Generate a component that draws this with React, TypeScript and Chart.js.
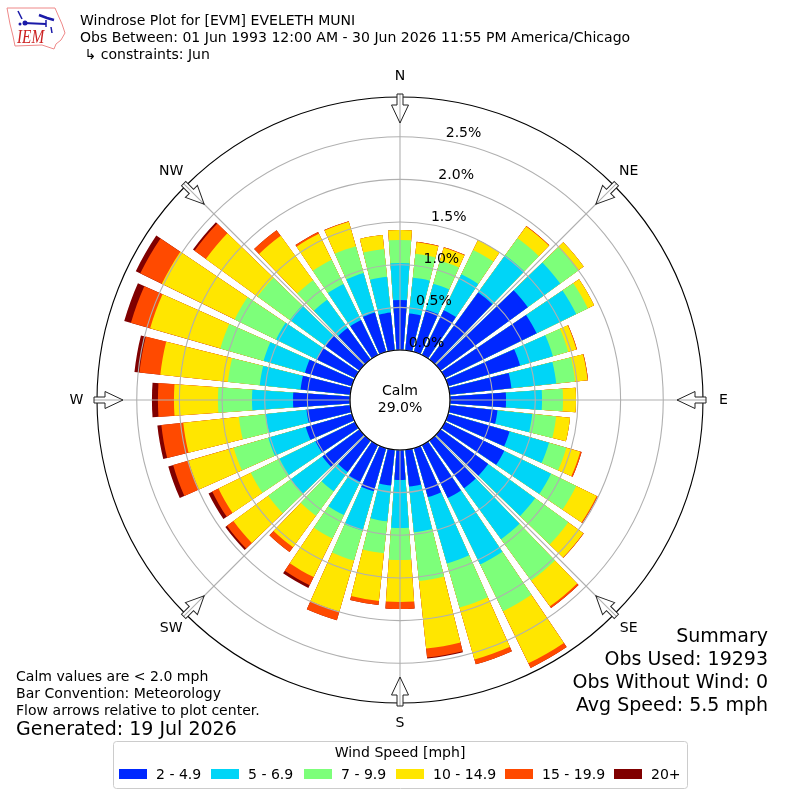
import React, { useEffect, useRef } from "react";
import { Chart, registerables } from "chart.js";

Chart.register(...registerables);

const directions = [0,10,20,30,40,50,60,70,80,90,100,110,120,130,140,150,160,170,180,190,200,210,220,230,240,250,260,270,280,290,300,310,320,330,340,350];
const speed2to5 = [.586,.434,.516,.586,.973,1.266,1.196,.879,.727,.657,.563,.750,.774,.692,.692,.692,.598,.434,.352,.422,.528,.481,.457,.539,.516,.563,.516,.668,.586,.574,.504,.492,.457,.457,.481,.445];
const speed5to7 = [.434,.422,.316,.469,.539,.469,.516,.399,.528,.422,.410,.481,.610,.680,.739,.867,.809,.539,.563,.422,.481,.434,.281,.457,.469,.457,.481,.481,.481,.504,.527,.516,.410,.469,.481,.422];
const speed7to10 = [.270,.281,.281,.316,.246,.258,.152,.188,.223,.246,.281,.211,.328,.481,.598,.610,.539,.574,.375,.375,.363,.305,.352,.328,.375,.422,.316,.399,.375,.527,.539,.469,.281,.316,.328,.328];
const speed10to15 = [.117,.135,.158,.129,.170,.082,.082,.100,.147,.152,.164,.170,.268,.217,.375,.680,.633,.797,.492,.563,.621,.504,.457,.504,.422,.551,.656,.516,.797,.856,.950,.750,.645,.340,.299,.164];
const speed15to20 = [0,.006,.006,0,.006,0,0,.006,.006,0,0,.017,.012,.006,.023,.059,.059,.106,.082,.047,.106,.106,.070,.094,.082,.188,.258,.188,.246,.234,.281,.164,.082,.023,.006,0];
const speed20plus = [0,0,0,0,0,0,0,0,0,0,0,0,0,0,0,0,0,.012,0,0,0,.035,0,.023,.047,.059,.047,.070,.059,.082,.059,.023,0,0,0,0];

const seriesValues = [speed2to5, speed5to7, speed7to10, speed10to15, speed15to20, speed20plus];
const seriesLabels = ["2 - 4.9", "5 - 6.9", "7 - 9.9", "10 - 14.9", "15 - 19.9", "20+"];
const seriesColors = ["#0028ff", "#00d5f7", "#7dff7a", "#ffe600", "#ff4a00", "#800000"];
const radialTicks = [0, 0.5, 1, 1.5, 2, 2.5];
const compass = ["N", "NE", "E", "SE", "S", "SW", "W", "NW"];
const compassAngles = [0, 45, 90, 135, 180, 225, 270, 315];
const titleLines = [
  "Windrose Plot for [EVM] EVELETH MUNI",
  "Obs Between: 01 Jun 1993 12:00 AM - 30 Jun 2026 11:55 PM America/Chicago",
  " \u21B3 constraints: Jun",
];
const noteLines = ["Calm values are < 2.0 mph", "Bar Convention: Meteorology", "Flow arrows relative to plot center."];
const summaryLines = ["Summary", "Obs Used: 19293", "Obs Without Wind: 0", "Avg Speed: 5.5 mph"];

const FONT = '"DejaVu Sans"';
const SMALL = 14.05;
const LARGE = 19;
const labels72: string[] = [];
directions.forEach((d) => { labels72.push(String(d)); labels72.push(""); });

const datasets = seriesValues.map((_, s) => ({
  label: seriesLabels[s],
  backgroundColor: seriesColors[s],
  borderWidth: 0,
  data: labels72.map((__, i) => {
    if (i % 2 === 1) return 0;
    let total = 0;
    for (let k = 0; k <= s; k++) total += seriesValues[k][i / 2];
    return total;
  }),
}));

function text(ctx: CanvasRenderingContext2D, t: string, x: number, y: number, size: number, align: CanvasTextAlign = "left", baseline: CanvasTextBaseline = "middle") {
  ctx.font = `${size}px ${FONT}`;
  ctx.fillStyle = "#000";
  ctx.textAlign = align;
  ctx.textBaseline = baseline;
  ctx.fillText(t, x, y);
}

function drawLogo(ctx: CanvasRenderingContext2D) {
  ctx.save();
  ctx.strokeStyle = "#e88";
  ctx.lineWidth = 1;
  ctx.beginPath();
  const pts = [[7,8],[55,8],[58,15],[62,24],[65,33],[61,40],[56,44],[54,49],[42,45],[15,46],[13,36],[10,24]];
  pts.forEach((p, i) => (i ? ctx.lineTo(p[0], p[1]) : ctx.moveTo(p[0], p[1])));
  ctx.closePath();
  ctx.stroke();
  ctx.strokeStyle = "#1a1aa8";
  ctx.fillStyle = "#1a1aa8";
  ctx.lineWidth = 2;
  ctx.beginPath(); ctx.moveTo(24, 23); ctx.lineTo(46, 24); ctx.stroke();
  ctx.lineWidth = 2.5;
  ctx.beginPath(); ctx.moveTo(39, 15); ctx.lineTo(47, 18); ctx.lineTo(54, 20); ctx.stroke();
  ctx.lineWidth = 1.5;
  ctx.beginPath(); ctx.moveTo(46, 20); ctx.lineTo(46, 27); ctx.stroke();
  ctx.beginPath(); ctx.moveTo(51, 27); ctx.lineTo(52, 33); ctx.stroke();
  ctx.beginPath(); ctx.moveTo(18, 11); ctx.lineTo(22, 19); ctx.stroke();
  ctx.beginPath(); ctx.arc(25, 23, 2.5, 0, Math.PI * 2); ctx.fill();
  ctx.beginPath(); ctx.arc(20, 24, 1.5, 0, Math.PI * 2); ctx.fill();
  ctx.translate(17, 38);
  ctx.scale(0.85, 1);
  ctx.font = 'italic 18px "Liberation Serif"';
  ctx.fillStyle = "#cc2222";
  ctx.textAlign = "left";
  ctx.textBaseline = "middle";
  ctx.fillText("IEM", 0, 0);
  ctx.restore();
}

function arrow(ctx: CanvasRenderingContext2D, cx: number, cy: number, deg: number) {
  ctx.save();
  ctx.translate(cx, cy);
  ctx.rotate((deg * Math.PI) / 180);
  const shape = [[-3, -306], [3, -306], [3, -295], [8.5, -295], [0, -277], [-8.5, -295], [-3, -295]];
  const path = () => {
    ctx.beginPath();
    shape.forEach((p, i) => (i ? ctx.lineTo(p[0], p[1]) : ctx.moveTo(p[0], p[1])));
    ctx.closePath();
  };
  path();
  ctx.fillStyle = "#fff";
  ctx.fill();
  ctx.strokeStyle = "#b0b0b0";
  ctx.lineWidth = 1.1;
  ctx.beginPath(); ctx.moveTo(0, -306); ctx.lineTo(0, -277); ctx.stroke();
  path();
  ctx.strokeStyle = "#222";
  ctx.lineWidth = 1;
  ctx.stroke();
  ctx.restore();
}

const windrosePlugin = {
  id: "windrose",
  afterDatasetsDraw(chart: any) {
    const r = chart.scales.r;
    const ctx = chart.ctx;
    ctx.save();
    ctx.fillStyle = "#fff";
    ctx.beginPath();
    ctx.arc(r.xCenter, r.yCenter, r.getDistanceFromCenterForValue(0), 0, Math.PI * 2);
    ctx.fill();
    ctx.restore();
  },
  afterDraw(chart: any) {
    const r = chart.scales.r;
    const ctx: CanvasRenderingContext2D = chart.ctx;
    const cx = r.xCenter, cy = r.yCenter;
    const inner = r.getDistanceFromCenterForValue(0);
    const outer = r.drawingArea;
    ctx.save();
    ctx.strokeStyle = "#b0b0b0";
    ctx.lineWidth = 1.1;
    compassAngles.forEach((a) => {
      const t = (a * Math.PI) / 180;
      ctx.beginPath();
      ctx.moveTo(cx + Math.sin(t) * inner, cy - Math.cos(t) * inner);
      ctx.lineTo(cx + Math.sin(t) * outer, cy - Math.cos(t) * outer);
      ctx.stroke();
    });
    ctx.strokeStyle = "#000";
    ctx.lineWidth = 1.1;
    ctx.beginPath(); ctx.arc(cx, cy, outer, 0, Math.PI * 2); ctx.stroke();
    ctx.beginPath(); ctx.arc(cx, cy, inner, 0, Math.PI * 2); ctx.stroke();
    compassAngles.forEach((a) => arrow(ctx, cx, cy, a));
    compass.forEach((c, i) => {
      const t = (compassAngles[i] * Math.PI) / 180;
      text(ctx, c, cx + Math.sin(t) * 323.5, cy - Math.cos(t) * 323.5, SMALL, "center");
    });
    const labelAngle = (10 * Math.PI) / 180;
    radialTicks.forEach((v) => {
      const d = r.getDistanceFromCenterForValue(v);
      text(ctx, v.toFixed(1) + "%", cx + Math.sin(labelAngle) * d, cy - Math.cos(labelAngle) * d, SMALL, "left", "bottom");
    });
    text(ctx, "Calm", cx, 391, SMALL, "center");
    text(ctx, "29.0%", cx, 408, SMALL, "center");

    titleLines.forEach((t, i) => text(ctx, t, 80, 21 + i * 17, SMALL));
    noteLines.forEach((t, i) => text(ctx, t, 16, 677 + i * 17, SMALL));
    text(ctx, "Generated: 19 Jul 2026", 16, 730, LARGE);
    summaryLines.forEach((t, i) => text(ctx, t, 768, 637 + i * 23, LARGE, "right"));

    ctx.fillStyle = "rgba(255,255,255,0.8)";
    ctx.strokeStyle = "#ccc";
    ctx.lineWidth = 1;
    ctx.beginPath();
    ctx.roundRect(113.5, 741.5, 574, 47, 3);
    ctx.fill();
    ctx.stroke();
    text(ctx, "Wind Speed [mph]", 400, 753, SMALL, "center");
    const swatchX = [119, 211, 304, 396, 505, 614];
    seriesLabels.forEach((l, i) => {
      ctx.fillStyle = seriesColors[i];
      ctx.fillRect(swatchX[i], 769, 28, 10);
      text(ctx, l, swatchX[i] + 37, 775, SMALL);
    });
    drawLogo(ctx);
    ctx.restore();
  },
};

export default function App() {
  const ref = useRef<HTMLCanvasElement>(null);
  useEffect(() => {
    const chart = new Chart(ref.current as HTMLCanvasElement, {
      type: "polarArea",
      data: { labels: labels72, datasets: datasets as any },
      options: {
        animation: false,
        responsive: false,
        devicePixelRatio: 1,
        layout: { padding: 97 },
        elements: { arc: { angle: ((c: any) => (c.dataIndex % 2 === 0 ? 8 : 2)) as any, borderWidth: 0 } },
        plugins: { legend: { display: false }, title: { display: false }, tooltip: { enabled: false } },
        scales: {
          r: {
            min: -0.586,
            max: 2.966,
            startAngle: -4,
            beginAtZero: false,
            afterBuildTicks: (s: any) => { s.ticks = radialTicks.map((value) => ({ value })); },
            ticks: { display: false },
            angleLines: { display: false },
            pointLabels: { display: false },
            grid: { display: true, circular: true, color: "#b0b0b0", lineWidth: 1.1, z: 1 },
          },
        },
      } as any,
      plugins: [windrosePlugin],
    });
    return () => chart.destroy();
  }, []);
  return <canvas ref={ref} width={800} height={800} style={{ position: "fixed", left: 0, top: 0, width: 800, height: 800, display: "block" }} />;
}
